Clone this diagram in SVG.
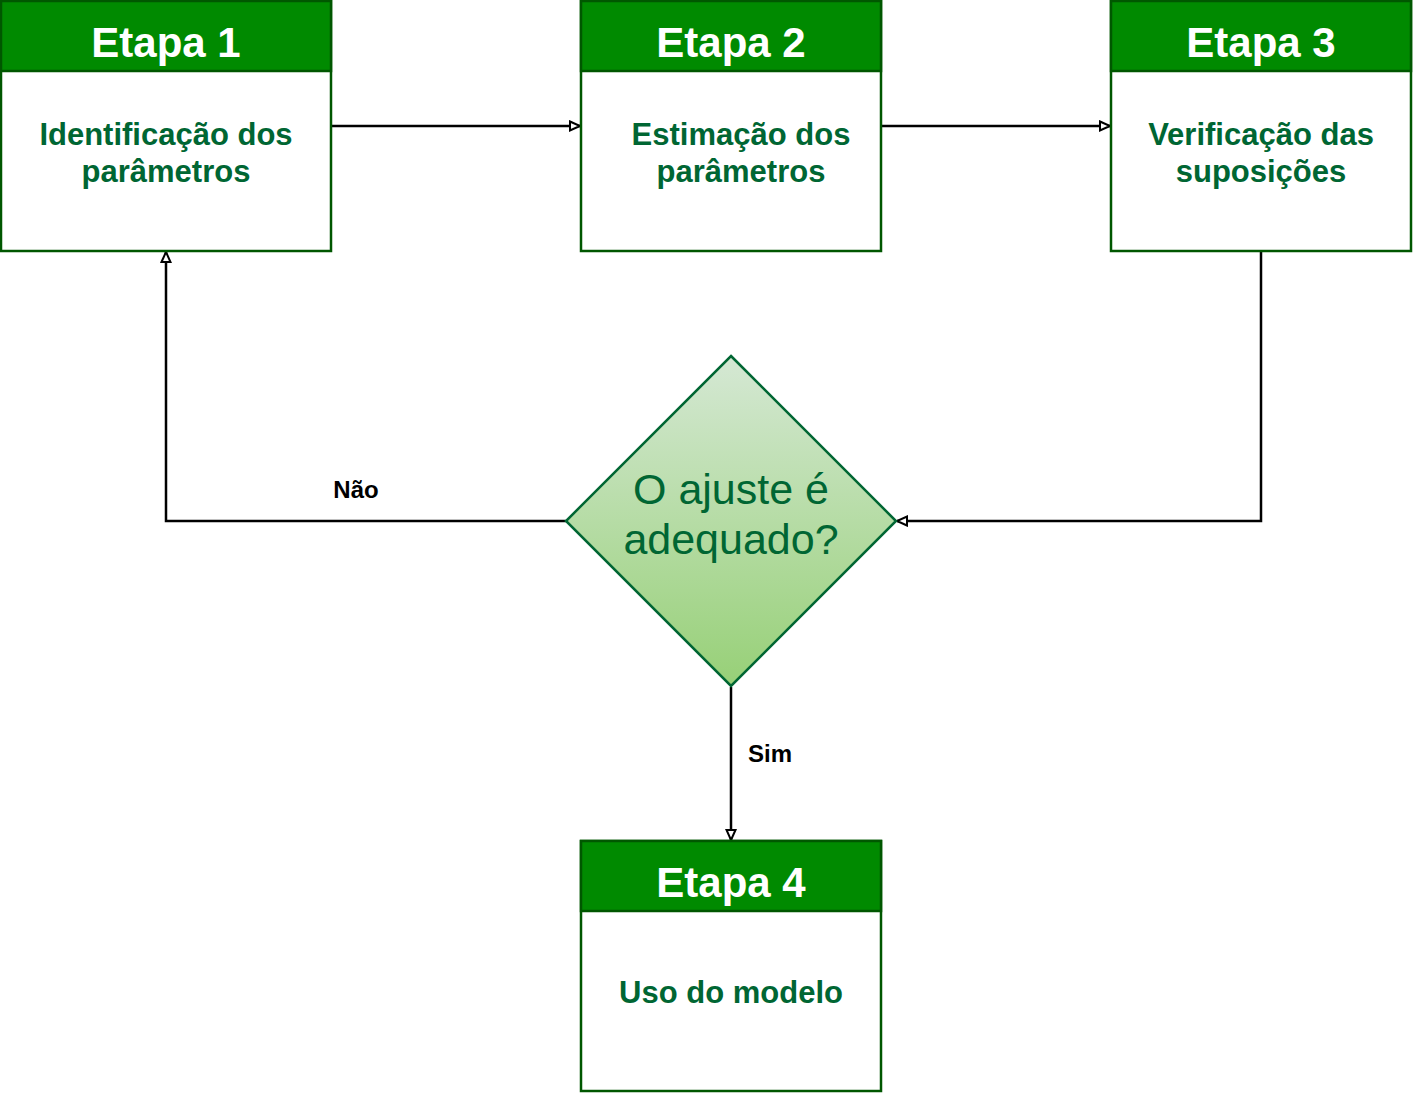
<svg xmlns="http://www.w3.org/2000/svg" width="1413" height="1093" viewBox="0 0 1413 1093">
  <defs>
    <linearGradient id="dg" x1="0" y1="0" x2="0" y2="1">
      <stop offset="0" stop-color="#d5e8d4"/>
      <stop offset="1" stop-color="#97d077"/>
    </linearGradient>
    <marker id="arr" markerUnits="userSpaceOnUse" markerWidth="14" markerHeight="12" refX="11" refY="6" orient="auto">
      <path d="M1,1.5 L11,6 L1,10.5 Z" fill="#ffffff" stroke="#000000" stroke-width="2"/>
    </marker>
    <style>
      .box { fill: #ffffff; stroke: #005700; stroke-width: 2.5; }
      .head { fill: #008a00; stroke: #005700; stroke-width: 2.5; }
      .title { font-family: "Liberation Sans", Arial, sans-serif; font-weight: bold; font-size: 42px; fill: #ffffff; text-anchor: middle; }
      .body { font-family: "Liberation Sans", Arial, sans-serif; font-weight: bold; font-size: 31px; fill: #006633; text-anchor: middle; }
      .dtext { font-family: "Liberation Sans", Arial, sans-serif; font-size: 43px; fill: #006633; text-anchor: middle; }
      .lbl { font-family: "Liberation Sans", Arial, sans-serif; font-weight: bold; font-size: 24px; fill: #000000; text-anchor: middle; }
      .edge { fill: none; stroke: #000000; stroke-width: 2.5; marker-end: url(#arr); }
    </style>
  </defs>
  <rect width="1413" height="1093" fill="#ffffff"/>

  <g id="connectors">
    <path class="edge" d="M332,126 L580,126"/>
    <path class="edge" d="M882,126 L1110,126"/>
    <path class="edge" d="M1261,252 L1261,521 L897,521"/>
    <path class="edge" d="M566,521 L166,521 L166,252"/>
    <path class="edge" d="M731,687 L731,840"/>
    <text class="lbl" x="356" y="498">Não</text>
    <text class="lbl" x="770" y="762">Sim</text>
  </g>

  <g id="etapa1">
    <rect class="box" x="1" y="1" width="330" height="250"/>
    <rect class="head" x="1" y="1" width="330" height="70"/>
    <text class="title" x="166" y="57">Etapa 1</text>
    <text class="body" x="166" y="145">Identificação dos</text>
    <text class="body" x="166" y="182">parâmetros</text>
  </g>

  <g id="etapa2">
    <rect class="box" x="581" y="1" width="300" height="250"/>
    <rect class="head" x="581" y="1" width="300" height="70"/>
    <text class="title" x="731" y="57">Etapa 2</text>
    <text class="body" x="741" y="145">Estimação dos</text>
    <text class="body" x="741" y="182">parâmetros</text>
  </g>

  <g id="etapa3">
    <rect class="box" x="1111" y="1" width="300" height="250"/>
    <rect class="head" x="1111" y="1" width="300" height="70"/>
    <text class="title" x="1261" y="57">Etapa 3</text>
    <text class="body" x="1261" y="145">Verificação das</text>
    <text class="body" x="1261" y="182">suposições</text>
  </g>

  <g id="decisao">
    <polygon points="731,356 896,521 731,686 566,521" fill="url(#dg)" stroke="#006633" stroke-width="2.5"/>
    <text class="dtext" x="731" y="504">O ajuste é</text>
    <text class="dtext" x="731" y="554">adequado?</text>
  </g>

  <g id="etapa4">
    <rect class="box" x="581" y="841" width="300" height="250"/>
    <rect class="head" x="581" y="841" width="300" height="70"/>
    <text class="title" x="731" y="897">Etapa 4</text>
    <text class="body" x="731" y="1003">Uso do modelo</text>
  </g>
</svg>
